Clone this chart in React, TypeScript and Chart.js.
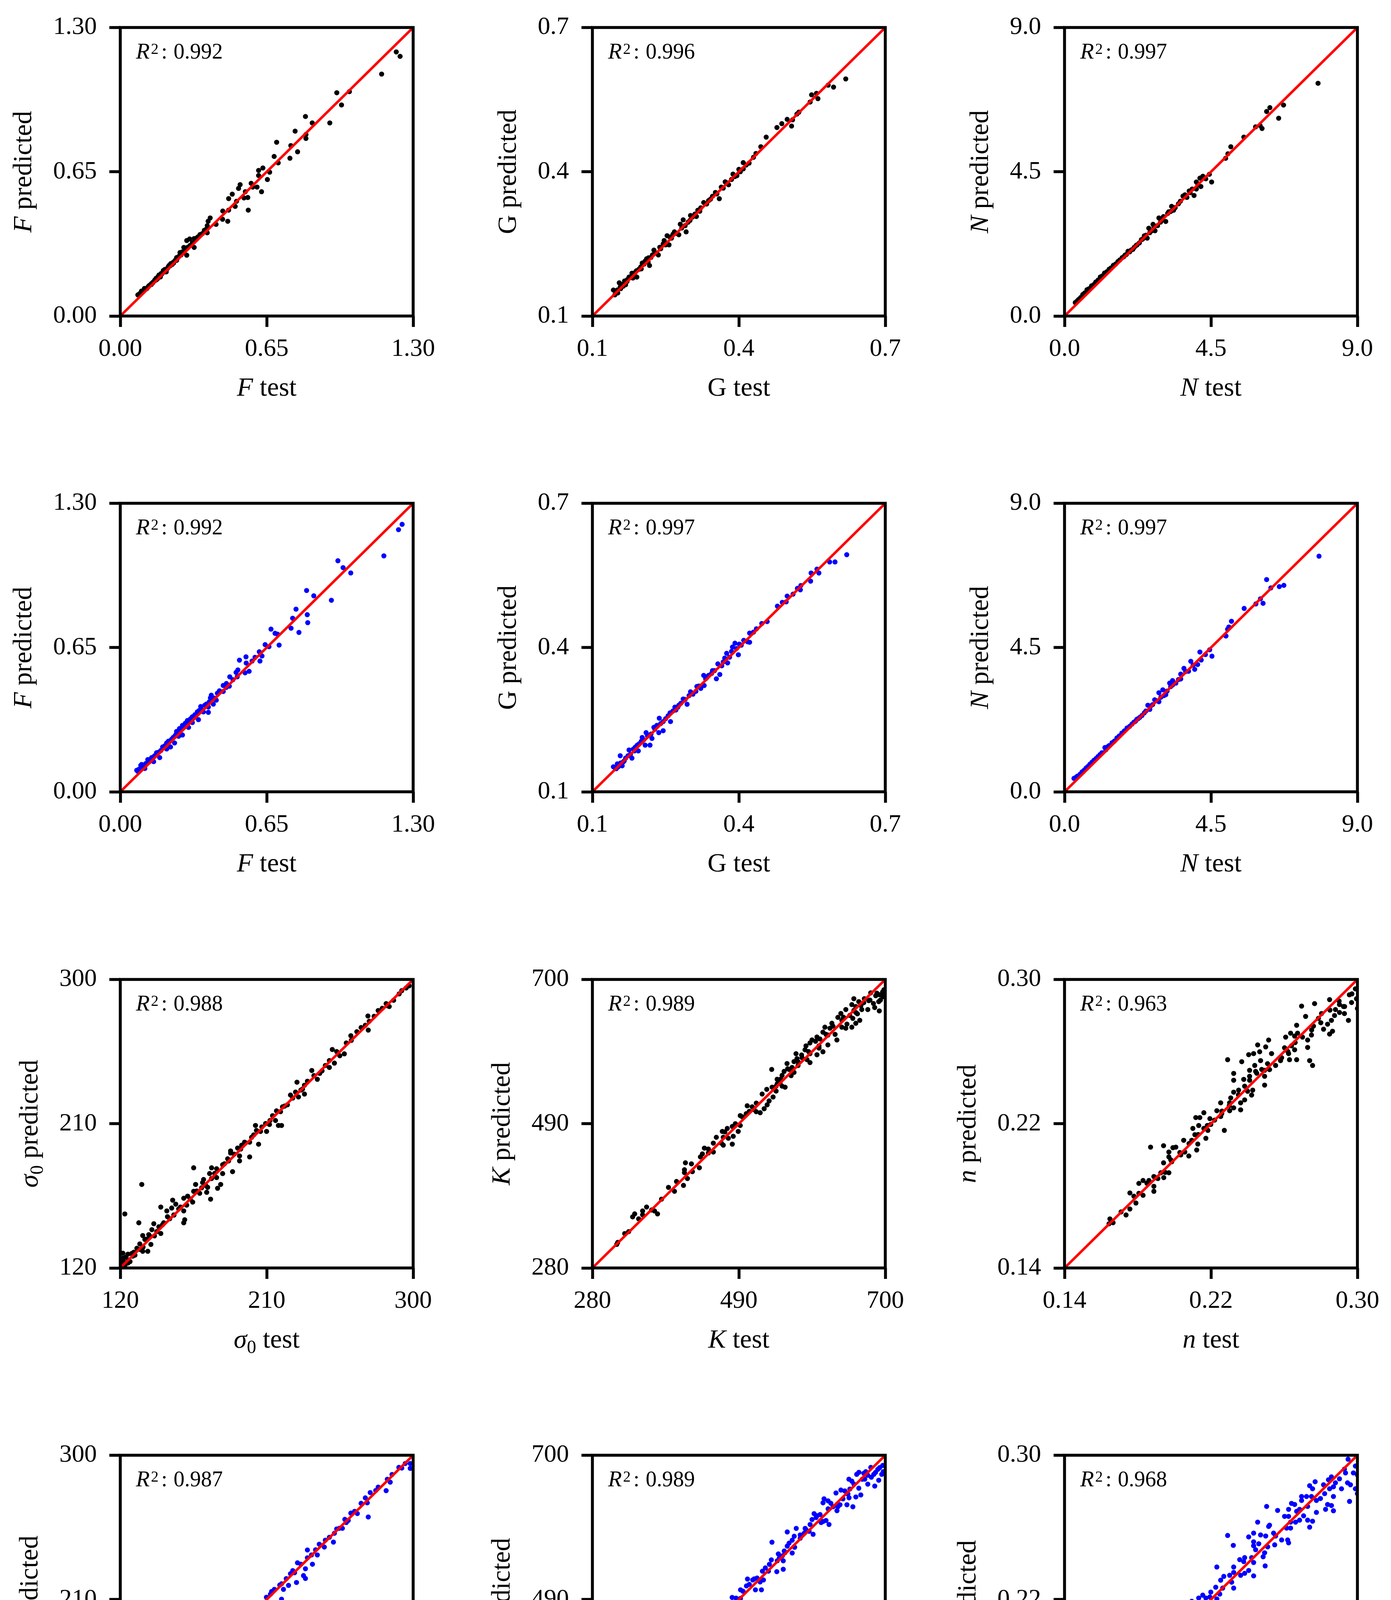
import React, { useEffect, useRef } from 'react';
import { Chart, registerables } from 'chart.js';

Chart.register(...registerables);

const FONT = '"Liberation Serif", "DejaVu Serif", serif';

// ---------------- data (test, predicted) ----------------
const fBlack = [[1.225,1.190],[1.242,1.170],[1.160,1.090],[0.961,1.006],[0.982,0.951],[1.017,1.011],[0.930,0.870],[0.822,0.899],[0.852,0.870],[0.776,0.833],[0.824,0.800],[0.824,0.818],[0.757,0.768],[0.787,0.740],[0.753,0.711],[0.694,0.783],[0.683,0.719],[0.701,0.690],[0.663,0.648],[0.653,0.615],[0.633,0.667],[0.614,0.656],[0.614,0.633],[0.627,0.560],[0.607,0.581],[0.581,0.598],[0.588,0.581],[0.532,0.592],[0.525,0.575],[0.497,0.549],[0.555,0.560],[0.549,0.532],[0.566,0.534],[0.568,0.477],[0.481,0.529],[0.510,0.494],[0.516,0.517],[0.481,0.477],[0.455,0.473],[0.454,0.436],[0.477,0.427],[0.399,0.442],[0.390,0.427],[0.425,0.413],[0.386,0.407],[0.386,0.375],[0.373,0.386],[0.354,0.367],[0.343,0.355],[0.328,0.349],[0.308,0.347],[0.295,0.340],[0.328,0.309],[0.295,0.274],[0.282,0.309],[0.265,0.286],[0.250,0.263],[0.237,0.239],[0.217,0.228],[0.204,0.199],[0.191,0.205],[0.178,0.176],[0.159,0.170],[0.152,0.158],[0.139,0.147],[0.126,0.135],[0.107,0.124],[0.094,0.112],[0.078,0.095],[0.087,0.101],[0.120,0.127],[0.172,0.185],[0.198,0.210],[0.224,0.236],[0.250,0.251],[0.276,0.289],[0.145,0.150],[0.165,0.168],[0.185,0.190],[0.210,0.215],[0.230,0.232],[0.260,0.268],[0.100,0.110],
[0.083,0.098],[0.090,0.103],[0.097,0.108],[0.104,0.114],[0.112,0.120],[0.118,0.124],[0.125,0.132],[0.132,0.140],[0.138,0.142],[0.146,0.153],[0.153,0.162],[0.160,0.163],[0.168,0.178],[0.175,0.180],[0.182,0.192],[0.190,0.196],[0.197,0.205],[0.205,0.210],[0.213,0.222],[0.220,0.225],[0.228,0.237],[0.235,0.242],[0.243,0.250],[0.255,0.262],[0.262,0.270],[0.270,0.275],[0.280,0.285],[0.290,0.300],[0.300,0.310],[0.310,0.318],[0.320,0.330],[0.335,0.345],[0.350,0.360],[0.365,0.372],[0.380,0.390]];

const gBlack = [[0.619,0.593],[0.594,0.576],[0.583,0.580],[0.562,0.552],[0.549,0.560],[0.559,0.563],[0.546,0.545],[0.523,0.524],[0.519,0.520],[0.508,0.495],[0.510,0.508],[0.499,0.509],[0.488,0.500],[0.478,0.492],[0.456,0.472],[0.445,0.452],[0.435,0.438],[0.421,0.418],[0.409,0.419],[0.409,0.406],[0.400,0.405],[0.396,0.392],[0.388,0.395],[0.385,0.384],[0.379,0.373],[0.372,0.379],[0.364,0.368],[0.360,0.344],[0.352,0.357],[0.346,0.349],[0.334,0.333],[0.328,0.336],[0.322,0.325],[0.316,0.320],[0.313,0.307],[0.301,0.309],[0.300,0.299],[0.286,0.300],[0.280,0.291],[0.292,0.275],[0.283,0.283],[0.277,0.269],[0.268,0.275],[0.259,0.264],[0.253,0.267],[0.257,0.248],[0.247,0.257],[0.238,0.243],[0.235,0.227],[0.226,0.237],[0.223,0.227],[0.215,0.221],[0.217,0.205],[0.211,0.219],[0.202,0.210],[0.199,0.202],[0.191,0.181],[0.190,0.194],[0.181,0.189],[0.175,0.181],[0.166,0.173],[0.163,0.162],[0.155,0.169],[0.151,0.154],[0.146,0.144],[0.143,0.154],[0.157,0.160],[0.172,0.176],[0.184,0.186],
[0.148,0.150],[0.152,0.148],[0.158,0.157],[0.162,0.166],[0.168,0.165],[0.171,0.172],[0.178,0.180],[0.183,0.179],[0.187,0.190],[0.195,0.197],[0.200,0.198],[0.206,0.208],[0.208,0.214],[0.214,0.212],[0.220,0.222],[0.228,0.232],[0.232,0.230],[0.240,0.240],[0.245,0.250],[0.250,0.248],[0.262,0.262],[0.265,0.270],[0.272,0.272],[0.290,0.288],[0.296,0.295],[0.305,0.306],[0.310,0.312],[0.320,0.318],[0.338,0.340],[0.342,0.343],[0.355,0.354],[0.368,0.366],[0.375,0.377],[0.392,0.390],[0.403,0.400],[0.415,0.414],[0.430,0.430]];

const nBigBlack = [[7.79,7.26],[6.31,6.50],[6.21,6.38],[6.73,6.58],[6.58,6.17],[6.07,5.85],[6.01,5.94],[5.87,5.90],[5.51,5.58],[5.11,5.28],[5.02,5.06],[4.95,4.92],[4.52,4.18],[4.45,4.42],[4.34,4.28],[4.25,4.36],[4.16,4.30],[4.19,4.04],[4.05,4.18],[4.05,3.96],[3.98,3.76],[3.92,3.96],[3.83,3.90],[3.76,3.70],[3.64,3.74],[3.56,3.58],[3.29,3.42],[3.26,3.26],[3.11,2.95],[3.04,3.10],[2.99,2.99],[2.90,3.06],[2.78,2.66],[2.72,2.86],[2.59,2.74],[2.54,2.43],[2.36,2.38],[2.23,2.22],[2.05,2.06],[1.86,1.90],[1.77,1.82],[1.64,1.70],[1.50,1.58],[1.37,1.46],[1.23,1.34],[1.10,1.22],[0.96,1.06],[0.83,0.94],[0.69,0.82],[0.56,0.67],[0.42,0.50],[0.33,0.42],[0.38,0.46],[1.95,2.02],[2.14,2.14],[2.45,2.50],[2.68,2.66],[2.86,2.82],[3.17,3.20],[3.40,3.38],
[0.45,0.53],[0.50,0.58],[0.62,0.72],[0.75,0.85],[0.90,0.98],[1.03,1.12],[1.16,1.25],[1.30,1.38],[1.43,1.50],[1.57,1.62],[1.70,1.75],[1.82,1.85],[1.90,1.92],[2.00,2.00],[2.10,2.08],[2.20,2.20],[2.30,2.28],[2.40,2.40],[2.50,2.52],[2.62,2.60],[2.75,2.78],[2.95,2.93],[3.20,3.25],[3.35,3.30],[3.50,3.50],[3.70,3.78],[3.86,3.85],[4.10,4.10]];

const fBlue = [[1.251,1.205],[1.235,1.181],[1.170,1.063],[0.966,1.041],[0.989,1.010],[1.023,0.986],[0.827,0.907],[0.859,0.883],[0.937,0.863],[0.780,0.823],[0.765,0.782],[0.830,0.798],[0.832,0.762],[0.758,0.737],[0.793,0.718],[0.669,0.733],[0.687,0.714],[0.698,0.710],[0.705,0.661],[0.643,0.663],[0.660,0.654],[0.617,0.631],[0.629,0.612],[0.620,0.589],[0.529,0.593],[0.558,0.608],[0.559,0.580],[0.585,0.589],[0.598,0.606],[0.522,0.549],[0.514,0.538],[0.554,0.536],[0.572,0.543],[0.519,0.518],[0.486,0.518],[0.457,0.479],[0.484,0.476],[0.471,0.488],[0.457,0.452],[0.431,0.444],[0.404,0.435],[0.400,0.423],[0.426,0.413],[0.413,0.395],[0.357,0.384],[0.391,0.382],[0.391,0.358],[0.369,0.360],[0.347,0.325],[0.331,0.347],[0.312,0.329],[0.320,0.312],[0.289,0.309],[0.276,0.299],[0.303,0.290],[0.276,0.256],[0.250,0.272],[0.259,0.250],[0.241,0.220],[0.214,0.228],[0.223,0.202],[0.206,0.193],[0.188,0.202],[0.166,0.176],[0.175,0.154],[0.152,0.162],[0.148,0.136],[0.135,0.145],[0.113,0.127],[0.109,0.105],[0.091,0.119],[0.082,0.101],[0.078,0.092],[0.073,0.097],[0.095,0.123],[0.122,0.145],[0.139,0.154],[0.161,0.176],[0.206,0.220],[0.228,0.237],[0.250,0.268],[0.263,0.285],[0.298,0.321],[0.320,0.338],[0.342,0.360],[0.382,0.395],[0.418,0.422],
[0.080,0.096],[0.087,0.100],[0.100,0.112],[0.106,0.116],[0.118,0.128],[0.128,0.135],[0.143,0.150],[0.157,0.165],[0.170,0.178],[0.180,0.186],[0.195,0.205],[0.200,0.209],[0.215,0.222],[0.220,0.228],[0.235,0.245],[0.245,0.255],[0.255,0.262],[0.268,0.280],[0.283,0.293],[0.292,0.305],[0.306,0.316],[0.326,0.333],[0.336,0.344],[0.350,0.366],[0.362,0.370],[0.375,0.390],[0.395,0.405],[0.440,0.455],[0.470,0.470],[0.500,0.505]];

const gBlue = [[0.621,0.593],[0.597,0.578],[0.586,0.578],[0.564,0.555],[0.560,0.563],[0.548,0.555],[0.547,0.538],[0.526,0.520],[0.527,0.529],[0.520,0.523],[0.511,0.511],[0.499,0.507],[0.497,0.495],[0.489,0.494],[0.479,0.486],[0.458,0.454],[0.447,0.450],[0.436,0.439],[0.422,0.430],[0.422,0.411],[0.418,0.412],[0.410,0.415],[0.399,0.385],[0.401,0.407],[0.392,0.409],[0.387,0.401],[0.385,0.392],[0.381,0.380],[0.375,0.388],[0.371,0.378],[0.377,0.368],[0.365,0.362],[0.357,0.366],[0.361,0.344],[0.354,0.335],[0.346,0.352],[0.344,0.346],[0.338,0.342],[0.328,0.342],[0.332,0.335],[0.329,0.321],[0.322,0.315],[0.314,0.319],[0.312,0.309],[0.301,0.308],[0.306,0.303],[0.294,0.282],[0.286,0.293],[0.277,0.280],[0.271,0.270],[0.259,0.264],[0.260,0.246],[0.255,0.258],[0.245,0.246],[0.237,0.253],[0.245,0.227],[0.236,0.223],[0.232,0.238],[0.222,0.211],[0.226,0.234],[0.218,0.197],[0.210,0.223],[0.208,0.197],[0.202,0.213],[0.194,0.185],[0.192,0.197],[0.184,0.189],[0.175,0.187],[0.181,0.170],[0.173,0.175],[0.165,0.164],[0.157,0.175],[0.161,0.154],[0.151,0.158],[0.143,0.152],[0.149,0.148],[0.157,0.156],[0.188,0.193],[0.200,0.205],[0.281,0.284],[0.269,0.276],
[0.146,0.150],[0.153,0.152],[0.158,0.160],[0.163,0.162],[0.168,0.170],[0.178,0.178],[0.186,0.185],[0.196,0.200],[0.205,0.208],[0.213,0.216],[0.220,0.220],[0.228,0.230],[0.240,0.242],[0.250,0.252],[0.265,0.268],[0.275,0.276],[0.290,0.292],[0.298,0.300],[0.318,0.320],[0.335,0.338],[0.350,0.352],[0.368,0.370],[0.395,0.398],[0.405,0.405],[0.430,0.432]];

const nBigBlue = [[7.82,7.35],[6.21,6.62],[6.34,6.36],[6.60,6.40],[6.74,6.44],[6.10,5.88],[6.02,6.02],[5.88,5.86],[5.52,5.72],[5.13,5.32],[5.05,5.14],[5.01,5.07],[4.96,4.86],[4.53,4.23],[4.46,4.43],[4.33,4.28],[4.16,4.36],[4.20,4.11],[4.09,3.97],[4.00,3.82],[3.88,4.07],[3.81,3.76],[3.67,3.85],[3.57,3.52],[3.57,3.67],[3.32,3.33],[3.32,3.47],[3.23,3.39],[3.11,3.03],[3.02,3.18],[2.90,3.09],[2.90,2.81],[2.77,2.87],[2.56,2.70],[2.62,2.57],[2.38,2.38],[2.22,2.26],[2.07,2.11],[1.92,1.99],[1.76,1.83],[1.61,1.68],[1.46,1.53],[1.24,1.38],[1.27,1.31],[1.09,1.16],[0.97,1.04],[0.84,0.92],[0.72,0.79],[0.60,0.67],[0.48,0.55],[0.36,0.46],[0.29,0.42],[1.37,1.44],[2.13,2.17],[2.31,2.32],[2.71,2.72],[3.05,3.00],[3.42,3.39],
[0.40,0.49],[0.54,0.62],[0.66,0.74],[0.78,0.86],[0.90,0.98],[1.03,1.10],[1.15,1.22],[1.32,1.40],[1.53,1.58],[1.68,1.74],[1.84,1.90],[2.00,2.04],[2.18,2.20],[2.26,2.28],[2.45,2.46],[2.50,2.52],[2.65,2.68],[2.82,2.84],[2.96,2.95],[3.15,3.14],[3.26,3.28],[3.50,3.50],[3.72,3.75],[3.95,3.95]];

const sigmaBlack = [[297.5,296.0],[295.7,294.7],[291.4,291.0],[284.1,283.7],[285.3,283.1],[283.4,284.9],[278.5,280.6],[272.2,277.2],[273.0,273.9],[272.4,268.4],[270.6,271.4],[265.4,267.4],[261.7,264.9],[258.9,260.4],[257.7,253.6],[254.9,252.4],[250.3,256.3],[248.5,249.4],[248.5,245.1],[251.6,247.8],[246.0,246.3],[242.6,241.4],[241.1,237.7],[237.7,243.2],[235.0,236.5],[233.2,234.0],[232.0,231.6],[233.2,228.5],[228.6,235.9],[227.7,229.7],[224.6,227.9],[229.5,226.7],[222.7,221.8],[219.7,220.5],[218.5,217.5],[219.1,208.9],[217.2,208.9],[215.4,212.0],[213.6,215.0],[211.7,209.5],[209.3,210.1],[209.9,205.2],[206.2,205.2],[203.1,208.9],[203.7,205.8],[205.0,197.2],[200.7,201.5],[199.5,198.5],[196.4,198.5],[194.6,196.6],[194.0,194.2],[199.5,189.3],[193.3,189.9],[193.3,186.8],[192.1,194.8],[187.8,193.0],[187.8,191.7],[186.6,186.8],[186.0,188.1],[182.9,184.4],[182.9,178.9],[189.0,180.1],[179.2,181.9],[176.1,182.5],[174.9,178.9],[165.1,182.5],[176.1,175.8],[179.2,176.4],[171.2,175.2],[170.6,173.3],[172.5,171.5],[173.7,170.3],[181.7,172.1],[179.8,169.7],[166.3,172.1],[175.5,162.9],[173.1,167.2],[168.8,166.6],[165.1,167.8],[161.4,164.8],[159.0,163.5],[164.5,161.1],[160.8,159.2],[159.0,155.6],[159.0,148.2],[159.6,150.1],[155.9,156.8],[154.1,159.8],[152.2,162.3],[151.6,157.4],[152.9,153.1],[150.4,150.7],[148.6,155.6],[144.9,158.0],[133.2,172.1],[122.8,153.7],[131.4,148.2],[146.7,148.2],[143.7,145.7],[140.6,147.6],[139.4,143.9],[144.9,141.5],[142.4,142.7],[137.5,140.8],[133.8,140.2],[135.1,137.8],[138.8,134.7],[136.9,130.4],[133.8,130.4],[131.9,131.6],[130.2,132.3],[128.3,129.8],[127.7,127.4],[124.7,128.6],[123.4,126.7],[121.6,126.1],[124.7,123.1],[121.0,123.7],[121.6,129.2],
[121,121],[122,124],[123,122],[125,125],[126,124],[127,129],[129,128],[132,135],[134,133],[136,138],[138,140],[141,140],[146,147],[149,152],[153,153],[157,158],[163,163],[167,168],[170,170],[178,179],[184,185],[190,191],[197,198],[202,203],[207,208],[212,212],[216,218],[221,221],[226,226],[231,231],[239,240],[244,243],[253,255],[262,262],[268,270],[276,277],[281,282],[288,287],[293,293]];

const kBlack = [[696.3,682.0],[696.3,674.8],[692.0,677.7],[690.6,667.7],[691.4,654.2],[684.8,659.1],[686.3,676.3],[679.1,680.5],[676.3,669.1],[674.9,656.2],[669.1,666.3],[666.3,656.2],[662.0,667.7],[654.9,672.0],[652.0,663.4],[657.7,660.5],[657.7,651.9],[653.4,643.3],[663.4,640.5],[657.7,636.2],[652.0,630.5],[649.1,647.6],[643.4,656.2],[636.3,650.5],[632.0,644.8],[637.7,640.5],[637.7,630.5],[643.4,629.0],[630.6,611.9],[623.4,636.2],[620.6,629.0],[613.4,630.5],[610.6,623.3],[617.7,619.0],[617.7,604.7],[610.6,594.7],[606.3,613.3],[602.0,616.2],[594.9,611.9],[592.0,607.6],[604.9,603.3],[602.0,590.4],[586.3,603.3],[584.9,597.6],[592.0,591.9],[592.0,579.0],[587.7,583.3],[580.6,586.1],[572.0,591.9],[573.4,584.7],[569.1,580.4],[574.9,574.7],[569.1,564.7],[566.3,571.9],[559.1,577.6],[562.0,569.0],[554.9,566.1],[552.0,560.4],[537.1,569.0],[544.9,554.7],[549.1,549.0],[556.3,543.2],[552.0,544.7],[543.4,544.7],[537.7,543.2],[543.4,537.5],[539.1,528.9],[533.4,523.2],[523.4,533.2],[530.6,517.5],[526.3,511.8],[520.6,506.0],[514.9,507.5],[512.0,510.4],[509.1,514.6],[502.0,516.1],[500.6,504.6],[492.0,501.8],[492.0,487.4],[489.1,478.8],[480.6,486.0],[473.4,483.1],[466.3,478.8],[482.0,471.7],[474.9,468.8],[480.6,460.2],[467.7,470.2],[467.7,458.8],[457.7,470.2],[453.4,461.7],[464.9,461.7],[446.3,453.1],[440.6,454.5],[453.4,448.8],[437.7,446.0],[434.9,441.7],[446.3,447.4],[413.4,433.1],[422.0,431.6],[433.4,425.9],[423.4,420.2],[412.0,423.0],[412.0,418.8],[416.3,410.2],[410.6,400.2],[400.6,405.9],[397.7,391.6],[389.1,397.3],[379.1,380.1],[373.4,358.7],[369.1,363.0],[364.9,364.4],[357.7,368.7],[352.0,363.0],[352.0,357.3],[346.3,351.5],[340.6,358.7],[337.7,354.4],[332.0,332.9],[326.3,330.1],[316.3,317.2],[314.9,314.3],
[600,610],[605,600],[615,620],[625,632],[628,620],[640,645],[645,635],[655,655],[660,650],[665,662],[670,672],[678,670],[683,665],[688,680],[693,670],[698,685],[699,678],[560,570],[565,560],[575,580],[580,590],[590,595],[545,548],[550,555],[530,540],[515,520],[505,508],[495,500],[485,490],[470,478]];

const nBlack = [[0.2989,0.2948],[0.2956,0.2915],[0.2968,0.2872],[0.2995,0.2893],[0.3000,0.2839],[0.2951,0.2773],[0.2924,0.2850],[0.2929,0.2811],[0.2902,0.2861],[0.2902,0.2817],[0.2875,0.2800],[0.2880,0.2833],[0.2848,0.2888],[0.2858,0.2773],[0.2864,0.2713],[0.2848,0.2697],[0.2837,0.2752],[0.2815,0.2724],[0.2804,0.2811],[0.2787,0.2784],[0.2766,0.2866],[0.2760,0.2741],[0.2749,0.2692],[0.2728,0.2664],[0.2728,0.2623],[0.2739,0.2550],[0.2755,0.2523],[0.2717,0.2795],[0.2695,0.2852],[0.2668,0.2746],[0.2673,0.2702],[0.2657,0.2686],[0.2635,0.2702],[0.2608,0.2680],[0.2640,0.2632],[0.2657,0.2610],[0.2624,0.2589],[0.2668,0.2555],[0.2629,0.2555],[0.2602,0.2621],[0.2586,0.2566],[0.2553,0.2523],[0.2531,0.2589],[0.2515,0.2664],[0.2499,0.2626],[0.2509,0.2533],[0.2493,0.2496],[0.2493,0.2463],[0.2493,0.2414],[0.2455,0.2637],[0.2466,0.2599],[0.2433,0.2589],[0.2406,0.2583],[0.2471,0.2550],[0.2439,0.2523],[0.2411,0.2496],[0.2444,0.2490],[0.2411,0.2463],[0.2477,0.2501],[0.2368,0.2544],[0.2291,0.2555],[0.2324,0.2479],[0.2324,0.2441],[0.2379,0.2446],[0.2411,0.2441],[0.2384,0.2408],[0.2428,0.2386],[0.2422,0.2359],[0.2351,0.2386],[0.2324,0.2375],[0.2384,0.2332],[0.2362,0.2316],[0.2362,0.2277],[0.2308,0.2343],[0.2302,0.2316],[0.2253,0.2316],[0.2324,0.2288],[0.2302,0.2272],[0.2259,0.2256],[0.2232,0.2272],[0.2253,0.2240],[0.2161,0.2261],[0.2139,0.2234],[0.2117,0.2234],[0.2194,0.2228],[0.2199,0.2196],[0.2183,0.2163],[0.2133,0.2190],[0.2101,0.2174],[0.2161,0.2174],[0.2112,0.2139],[0.2172,0.2119],[0.2273,0.2163],[0.2128,0.2087],[0.2122,0.2054],[0.2095,0.2108],[0.2051,0.2108],[0.2079,0.2021],[0.2057,0.2043],[0.2035,0.2027],[0.2008,0.2070],[0.1992,0.2067],[0.1970,0.2043],[0.1970,0.2016],[0.1941,0.2078],[0.1870,0.2070],[0.1986,0.1989],[0.1941,0.1983],[0.1970,0.1928],[0.1942,0.1901],[0.1926,0.1928],[0.1910,0.1896],[0.1888,0.1907],[0.1861,0.1885],[0.1829,0.1885],[0.1806,0.1869],[0.1888,0.1853],[0.1888,0.1825],[0.1829,0.1803],[0.1806,0.1814],[0.1757,0.1816],[0.1779,0.1798],[0.1790,0.1760],[0.1757,0.1727],[0.1736,0.1694],[0.1709,0.1711],[0.1648,0.1672],[0.1665,0.1651],[0.1643,0.1645],
[0.2900,0.2880],[0.2850,0.2830],[0.2800,0.2760],[0.2750,0.2720],[0.2700,0.2680],[0.2660,0.2650],[0.2620,0.2600],[0.2580,0.2550],[0.2520,0.2500],[0.2450,0.2480],[0.2400,0.2380],[0.2350,0.2360],[0.2300,0.2300],[0.2260,0.2270],[0.2220,0.2220],[0.2180,0.2190],[0.2130,0.2140],[0.2080,0.2090],[0.2030,0.2040],[0.1980,0.2000],[0.1950,0.1930],[0.1900,0.1900],[0.1850,0.1870],[0.2970,0.2920],[0.2930,0.2850]];

const sigmaBlue = [[298.2,294.8],[298.2,291.8],[295.1,294.8],[291.2,292.4],[285.9,283.2],[284.1,285.0],[283.4,277.9],[278.5,280.1],[273.6,276.7],[270.6,273.4],[271.8,270.3],[272.4,261.5],[265.7,263.6],[261.7,263.9],[260.1,259.3],[258.9,258.0],[256.5,254.4],[254.6,254.4],[251.6,251.3],[248.5,248.8],[251.0,245.8],[245.4,242.7],[242.3,244.5],[241.1,237.8],[237.5,237.8],[235.0,240.9],[235.0,236.0],[238.1,232.0],[233.8,229.2],[233.8,223.1],[232.6,224.9],[228.9,232.9],[228.3,220.6],[227.1,226.7],[224.6,226.1],[223.4,218.8],[220.3,216.3],[219.1,219.8],[219.1,210.2],[217.2,206.3],[214.7,216.3],[212.3,213.3],[209.8,211.4],[209.8,207.7],[208.6,199.1],[208.6,196.4],[205.0,200.4],[203.1,207.1],[203.1,205.3],[201.3,199.8],[199.4,202.8],[198.8,195.2],[196.4,197.3],[194.6,194.2],[192.8,195.2],[193.6,189.9],[193.3,182.2],[189.0,186.9],[185.9,187.5],[186.6,181.3],[187.8,176.4],[187.8,166.0],[181.0,189.6],[181.0,184.4],[183.5,180.1],[181.0,169.1],[179.2,180.7],[177.4,178.3],[174.9,179.5],[173.7,175.8],[173.7,169.7],[175.5,172.1],[171.2,170.9],[168.8,172.1],[165.1,171.5],[168.2,164.2],[164.5,161.7],[162.1,164.2],[158.4,164.8],[159.6,157.4],[160.2,155.0],[157.8,156.2],[155.3,158.0],[152.3,171.2],[152.9,156.2],[155.3,147.6],[152.3,145.8],[150.4,151.3],[149.2,148.8],[147.4,145.2],[144.9,156.2],[143.7,147.6],[141.8,143.9],[144.3,139.0],[144.0,134.7],[140.0,144.5],[138.8,141.5],[138.8,136.6],[136.9,134.1],[133.9,135.3],[133.9,144.5],[133.0,163.6],[131.2,160.5],[122.8,150.7],[135.1,134.1],[131.4,129.2],[128.3,129.8],[128.3,124.3],[126.5,127.4],[124.7,125.5],[121.6,126.7],[121.0,124.3],[122.2,123.1],
[121,122],[123,124],[125,123],[127,128],[130,131],[132,134],[135,136],[137,139],[140,141],[142,143],[146,147],[148,150],[151,152],[154,155],[157,158],[161,162],[164,165],[167,168],[170,171],[176,177],[180,182],[184,185],[190,191],[196,197],[202,203],[207,208],[213,215],[218,219],[222,223],[226,228],[231,232],[240,241],[246,247],[253,254],[258,260],[264,265],[268,270],[277,278],[287,288],[293,292]];

const kBlue = [[696.3,685.1],[694.9,672.2],[689.2,679.4],[690.6,663.6],[684.9,655.1],[683.5,672.2],[679.2,682.3],[674.9,657.9],[674.9,670.8],[669.2,673.7],[670.6,665.1],[664.9,642.2],[657.8,639.3],[662.1,675.1],[659.0,672.2],[652.1,662.2],[647.8,665.1],[653.5,625.0],[645.0,627.9],[649.2,650.8],[646.4,643.6],[639.3,636.5],[636.4,649.3],[629.3,645.0],[635.0,627.9],[630.7,619.3],[625.0,625.0],[617.9,633.6],[612.2,636.5],[610.7,630.7],[619.3,599.2],[615.0,605.0],[610.7,603.5],[606.5,613.6],[600.8,609.3],[597.9,615.0],[595.0,606.4],[592.2,599.2],[596.5,584.9],[590.8,589.2],[585.1,593.5],[583.7,586.4],[578.0,579.2],[572.3,593.5],[569.4,582.1],[566.5,576.3],[559.4,588.3],[559.4,567.7],[566.5,557.7],[555.1,560.6],[552.3,553.4],[546.6,556.3],[545.1,546.3],[553.7,546.3],[553.7,534.0],[544.4,530.5],[536.6,547.7],[537.5,573.4],[533.8,541.2],[532.4,531.2],[523.8,531.2],[525.3,518.4],[520.5,515.5],[516.1,521.2],[509.9,518.4],[502.4,519.8],[500.9,509.8],[513.8,504.1],[522.4,504.1],[492.4,504.1],[489.6,484.4],[492.4,491.6],[480.4,493.0],[482.4,474.8],[473.9,484.0],[467.3,479.7],[473.9,473.5],[468.2,462.6],[463.9,463.5],[458.2,473.5],[449.6,466.3],[449.6,459.2],[453.9,454.0],[444.0,454.9],[435.4,454.9],[439.6,446.3],[433.9,439.1],[432.6,431.9],[423.9,439.1],[419.7,434.3],[413.9,435.8],[412.5,428.6],[412.5,422.9],[422.6,425.8],[416.9,414.4],[409.6,411.5],[411.2,405.8],[402.6,416.9],[389.8,396.0],[397.8,382.2],[379.8,384.5],[371.2,364.5],[374.1,353.0],[364.1,360.1],[358.4,347.3],[354.1,353.0],[348.4,344.4],[341.3,355.9],[338.4,347.3],[332.7,322.9],[328.5,330.1],[317.1,317.2],[317.9,310.1],
[602,612],[608,602],[618,622],[622,630],[632,625],[642,648],[648,638],[655,658],[662,652],[667,665],[672,676],[680,668],[686,675],[692,682],[697,676],[562,572],[570,566],[578,584],[586,592],[548,550],[556,558],[528,536],[512,520],[505,512],[496,502],[486,492]];

const nBlue = [[0.2949,0.2978],[0.2989,0.2940],[0.3000,0.2891],[0.2978,0.2902],[0.2989,0.2814],[0.3000,0.2787],[0.2962,0.2836],[0.2957,0.2744],[0.2935,0.2902],[0.2929,0.2923],[0.2946,0.2847],[0.2913,0.2814],[0.2902,0.2869],[0.2880,0.2847],[0.2858,0.2880],[0.2842,0.2864],[0.2869,0.2825],[0.2848,0.2814],[0.2815,0.2836],[0.2821,0.2787],[0.2869,0.2771],[0.2837,0.2727],[0.2858,0.2721],[0.2869,0.2692],[0.2826,0.2700],[0.2798,0.2760],[0.2776,0.2749],[0.2776,0.2683],[0.2769,0.2853],[0.2739,0.2831],[0.2755,0.2814],[0.2749,0.2771],[0.2722,0.2771],[0.2695,0.2771],[0.2695,0.2749],[0.2728,0.2716],[0.2706,0.2664],[0.2728,0.2640],[0.2755,0.2634],[0.2739,0.2601],[0.2684,0.2700],[0.2657,0.2727],[0.2640,0.2733],[0.2624,0.2700],[0.2668,0.2689],[0.2602,0.2661],[0.2624,0.2661],[0.2635,0.2629],[0.2662,0.2629],[0.2684,0.2640],[0.2613,0.2596],[0.2635,0.2596],[0.2564,0.2694],[0.2504,0.2716],[0.2520,0.2612],[0.2515,0.2605],[0.2455,0.2629],[0.2542,0.2568],[0.2586,0.2530],[0.2619,0.2530],[0.2624,0.2514],[0.2553,0.2552],[0.2548,0.2503],[0.2499,0.2552],[0.2510,0.2492],[0.2471,0.2558],[0.2461,0.2509],[0.2433,0.2568],[0.2406,0.2547],[0.2433,0.2520],[0.2433,0.2498],[0.2444,0.2476],[0.2493,0.2459],[0.2485,0.2437],[0.2496,0.2386],[0.2422,0.2432],[0.2433,0.2405],[0.2384,0.2432],[0.2357,0.2421],[0.2379,0.2410],[0.2406,0.2361],[0.2433,0.2331],[0.2384,0.2345],[0.2362,0.2334],[0.2324,0.2380],[0.2324,0.2350],[0.2291,0.2555],[0.2322,0.2500],[0.2302,0.2334],[0.2270,0.2328],[0.2232,0.2380],[0.2313,0.2296],[0.2324,0.2263],[0.2253,0.2307],[0.2264,0.2263],[0.2226,0.2268],[0.2248,0.2230],[0.2243,0.2176],[0.2232,0.2203],[0.2199,0.2241],[0.2194,0.2214],[0.2205,0.2165],[0.2172,0.2208],[0.2172,0.2137],[0.2155,0.2224],[0.2133,0.2208],[0.2117,0.2165],[0.2095,0.2190],[0.2095,0.2165],[0.2123,0.2094],[0.2123,0.2034],[0.2063,0.2135],[0.2052,0.2083],[0.2030,0.2105],[0.2003,0.2117],[0.2000,0.2085],[0.1941,0.2112],[0.2052,0.2023],[0.2046,0.1995],[0.2030,0.2001],[0.2008,0.2012],[0.1970,0.2017],[0.1976,0.1984],[0.1970,0.1952],[0.1970,0.1919],[0.1941,0.1968],[0.1910,0.1952],[0.1870,0.1971],[0.1870,0.1941],[0.1932,0.1908],[0.1926,0.1888],[0.1888,0.1897],[0.1861,0.1870],[0.1883,0.1848],[0.1812,0.1848],[0.1829,0.1804],[0.1779,0.1804],[0.1785,0.1782],[0.1757,0.1722],[0.1736,0.1722],[0.1709,0.1728],[0.1719,0.1689],[0.1648,0.1703],[0.1648,0.1668],[0.1670,0.1646]];

// ---------------- axes ----------------
const fTicks = [0, 0.65, 1.3];
const gTicks = [0.1, 0.4, 0.7];
const nBigTicks = [0, 4.5, 9];
const sigmaTicks = [120, 210, 300];
const kTicks = [280, 490, 700];
const nTicks = [0.14, 0.22, 0.3];

const r2Labels = ['0.992', '0.996', '0.997', '0.992', '0.997', '0.997', '0.988', '0.989', '0.963', '0.987', '0.989', '0.968'];

type Seg = { t: string; i?: boolean; sub?: boolean };
const symF: Seg[] = [{ t: 'F', i: true }];
const symG: Seg[] = [{ t: 'G' }];
const symN: Seg[] = [{ t: 'N', i: true }];
const symSigma: Seg[] = [{ t: 'σ', i: true }, { t: '0', sub: true }];
const symK: Seg[] = [{ t: 'K', i: true }];
const symn: Seg[] = [{ t: 'n', i: true }];

const BLACK = '#000000';
const BLUE = '#0000ff';

const panels = [
  { data: fBlack, color: BLACK, ticks: fTicks, dec: 2, sym: symF },
  { data: gBlack, color: BLACK, ticks: gTicks, dec: 1, sym: symG },
  { data: nBigBlack, color: BLACK, ticks: nBigTicks, dec: 1, sym: symN },
  { data: fBlue, color: BLUE, ticks: fTicks, dec: 2, sym: symF },
  { data: gBlue, color: BLUE, ticks: gTicks, dec: 1, sym: symG },
  { data: nBigBlue, color: BLUE, ticks: nBigTicks, dec: 1, sym: symN },
  { data: sigmaBlack, color: BLACK, ticks: sigmaTicks, dec: 0, sym: symSigma },
  { data: kBlack, color: BLACK, ticks: kTicks, dec: 0, sym: symK },
  { data: nBlack, color: BLACK, ticks: nTicks, dec: 2, sym: symn },
  { data: sigmaBlue, color: BLUE, ticks: sigmaTicks, dec: 0, sym: symSigma },
  { data: kBlue, color: BLUE, ticks: kTicks, dec: 0, sym: symK },
  { data: nBlue, color: BLUE, ticks: nTicks, dec: 2, sym: symn },
];

// ---------------- layout ----------------
const COL_LEFT = [308, 1517, 2726];
const ROW_TOP = [59, 1277, 2496, 3714];
const BOX = 750;
const AXIS_W = 308;
const PAD_TOP = 59;
const CW = 1209;
const CH = 1218;

const TICK_SIZE = 64;
const TITLE_SIZE = 68;
const R2_SIZE = 56;

function segFont(s: Seg, size: number) {
  const sz = s.sub ? size * 0.7 : size;
  return `${s.i ? 'italic ' : ''}${sz}px ${FONT}`;
}

function drawSegs(ctx: CanvasRenderingContext2D, segs: Seg[], size: number, cx: number, y: number) {
  let total = 0;
  for (const s of segs) { ctx.font = segFont(s, size); total += ctx.measureText(s.t).width; }
  let x = cx - total / 2;
  for (const s of segs) {
    ctx.font = segFont(s, size);
    ctx.fillText(s.t, x, s.sub ? y + size * 0.2 : y);
    x += ctx.measureText(s.t).width;
  }
}

function makePlugin(p: any, r2: string) {
  return {
    id: 'decor',
    afterDatasetsDraw(chart: any) {
      const { ctx, chartArea: ca } = chart;
      ctx.save();
      ctx.strokeStyle = '#000';
      ctx.lineWidth = 7.5;
      ctx.strokeRect(ca.left, ca.top, ca.right - ca.left, ca.bottom - ca.top);
      ctx.restore();
    },
    afterDraw(chart: any) {
      const { ctx, chartArea: ca } = chart;
      ctx.save();
      ctx.fillStyle = '#000';
      ctx.textBaseline = 'alphabetic';
      ctx.textAlign = 'left';
      // R^2 annotation
      const rx = ca.left + 40;
      const ry = ca.top + 80;
      ctx.font = `italic ${R2_SIZE + 2}px ${FONT}`;
      ctx.fillText('R', rx, ry);
      let x = rx + ctx.measureText('R').width + 3;
      ctx.font = `${Math.round(R2_SIZE * 0.7)}px ${FONT}`;
      ctx.fillText('2', x, ry - 12);
      x += ctx.measureText('2').width + 7;
      ctx.font = `${R2_SIZE}px ${FONT}`;
      ctx.fillText(':', x, ry);
      x += ctx.measureText(':').width + 16;
      ctx.fillText(r2, x, ry);

      // x title
      const cxm = (ca.left + ca.right) / 2;
      drawSegs(ctx, [...p.sym, { t: ' test' }], TITLE_SIZE, cxm, ca.bottom + 204);

      // y title
      ctx.font = `${TICK_SIZE}px ${FONT}`;
      let maxW = 0;
      for (const v of p.ticks) maxW = Math.max(maxW, ctx.measureText(Number(v).toFixed(p.dec)).width);
      const bx = ca.left - 60 - maxW - 56;
      const cym = (ca.top + ca.bottom) / 2;
      ctx.translate(bx, cym);
      ctx.rotate(-Math.PI / 2);
      drawSegs(ctx, [...p.sym, { t: ' predicted' }], TITLE_SIZE, 0, 0);
      ctx.restore();
    },
  };
}

function axisOpts(p: any, isX: boolean) {
  const min = p.ticks[0];
  const max = p.ticks[p.ticks.length - 1];
  return {
    type: 'linear',
    position: isX ? 'bottom' : 'left',
    min,
    max,
    afterBuildTicks: (s: any) => { s.ticks = p.ticks.map((v: number) => ({ value: v })); },
    afterFit: (s: any) => {
      if (isX) s.height = CH - PAD_TOP - BOX; else s.width = AXIS_W;
    },
    ticks: {
      callback: (v: any) => Number(v).toFixed(p.dec),
      font: { family: FONT, size: TICK_SIZE, lineHeight: 1.2 },
      color: '#000',
      padding: isX ? 19 : 32,
      autoSkip: false,
      maxRotation: 0,
      minRotation: 0,
    },
    grid: {
      display: true,
      drawOnChartArea: false,
      drawTicks: true,
      tickLength: 28,
      tickWidth: 7.5,
      tickColor: '#000',
      color: '#000',
    },
    border: { display: false },
  };
}

function Panel({ idx }: { idx: number }) {
  const ref = useRef<HTMLCanvasElement>(null);
  const p = panels[idx];
  const col = idx % 3;
  const row = Math.floor(idx / 3);
  useEffect(() => {
    const canvas = ref.current;
    if (!canvas) return;
    const min = p.ticks[0];
    const max = p.ticks[p.ticks.length - 1];
    const chart = new Chart(canvas, {
      type: 'scatter',
      data: {
        datasets: [
          {
            type: 'line',
            data: [{ x: min, y: min }, { x: max, y: max }],
            borderColor: '#ff0000',
            borderWidth: 6.5,
            pointRadius: 0,
            fill: false,
            order: 0,
          } as any,
          {
            type: 'scatter',
            data: p.data.map(([x, y]) => ({ x, y })),
            backgroundColor: p.color,
            borderColor: p.color,
            borderWidth: 0,
            pointRadius: 6.5,
            pointHoverRadius: 6.5,
            order: 1,
          } as any,
        ],
      },
      options: {
        animation: false,
        responsive: false,
        maintainAspectRatio: false,
        events: [],
        layout: { padding: { top: PAD_TOP, right: CW - AXIS_W - BOX, left: 0, bottom: 0 } },
        plugins: { legend: { display: false }, tooltip: { enabled: false }, title: { display: false } },
        scales: { x: axisOpts(p, true) as any, y: axisOpts(p, false) as any },
      } as any,
      plugins: [makePlugin(p, r2Labels[idx])],
    });
    return () => chart.destroy();
  }, []);
  return (
    <canvas
      ref={ref}
      width={CW}
      height={CH}
      style={{ position: 'absolute', left: COL_LEFT[col] - AXIS_W, top: ROW_TOP[row] - PAD_TOP, width: CW, height: CH }}
    />
  );
}

export default function App() {
  return (
    <div style={{ position: 'absolute', left: 0, top: 0, width: 3562, height: 4710, overflow: 'hidden', background: '#ffffff' }}>
      {panels.map((_, i) => <Panel key={i} idx={i} />)}
    </div>
  );
}
